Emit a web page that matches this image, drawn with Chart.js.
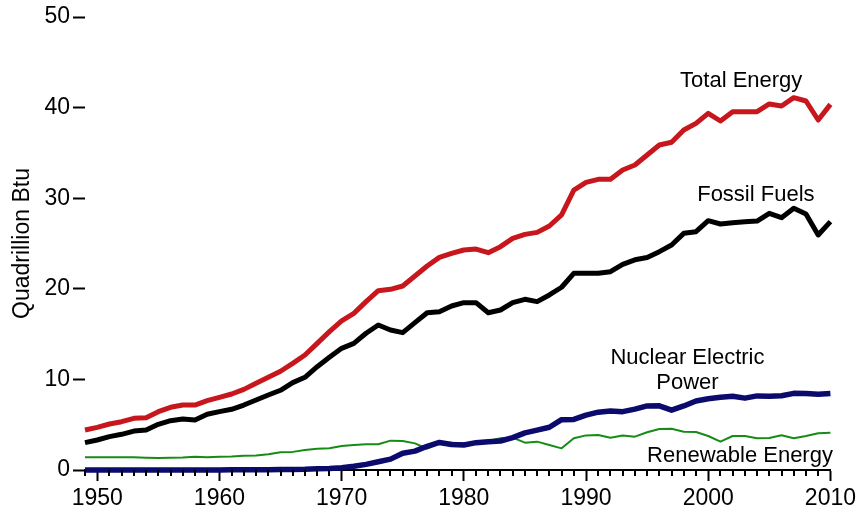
<!DOCTYPE html>
<html>
<head>
<meta charset="utf-8">
<script src="https://cdn.jsdelivr.net/npm/chart.js@4.4.1/dist/chart.umd.min.js"></script>
<style>
  html, body { margin: 0; padding: 0; background: #fff; }
  #wrap { width: 860px; height: 513px; }
</style>
</head>
<body>
<div id="wrap"><canvas id="chart" width="860" height="513"></canvas></div>
<script>
// データ（1949〜2010年、単位: Quadrillion Btu）
const years = [];
for (let y = 1949; y <= 2010; y++) years.push(y);

const totalEnergy = [
  4.41, 4.71, 5.08, 5.33, 5.70, 5.77, 6.44, 6.92, 7.17, 7.17, 7.65,
  8.02, 8.39, 8.90, 9.57, 10.23, 10.90, 11.77, 12.69, 13.98, 15.27,
  16.45, 17.29, 18.58, 19.79, 19.94, 20.31, 21.41, 22.52, 23.47, 23.91,
  24.28, 24.39, 23.99, 24.65, 25.57, 26.01, 26.23, 26.93, 28.15, 30.90,
  31.75, 32.08, 32.08, 33.11, 33.66, 34.77, 35.87, 36.17, 37.53, 38.26,
  39.37, 38.52, 39.55, 39.55, 39.55, 40.40, 40.18, 41.10, 40.73, 38.63,
  40.36
];

const fossilFuels = [
  3.02, 3.31, 3.68, 3.94, 4.30, 4.41, 5.04, 5.44, 5.63, 5.52, 6.15,
  6.44, 6.70, 7.17, 7.73, 8.28, 8.80, 9.64, 10.23, 11.40, 12.44,
  13.43, 13.98, 15.09, 16.00, 15.45, 15.16, 16.26, 17.36, 17.47, 18.10,
  18.47, 18.47, 17.36, 17.66, 18.47, 18.84, 18.58, 19.32, 20.17, 21.71,
  21.71, 21.71, 21.89, 22.70, 23.20, 23.45, 24.10, 24.83, 26.12, 26.30,
  27.52, 27.15, 27.30, 27.41, 27.48, 28.33, 27.85, 28.88, 28.26, 25.94,
  27.41
];

const nuclear = [
  0, 0, 0, 0, 0, 0, 0, 0, 0, 0.002, 0.002,
  0.006, 0.02, 0.026, 0.038, 0.04, 0.043, 0.064, 0.088, 0.142, 0.154,
  0.24, 0.41, 0.62, 0.91, 1.20, 1.85, 2.08, 2.62, 3.04, 2.82,
  2.76, 3.02, 3.13, 3.20, 3.58, 4.10, 4.40, 4.72, 5.56, 5.58,
  6.05, 6.38, 6.50, 6.44, 6.72, 7.07, 7.08, 6.60, 7.07, 7.62,
  7.87, 8.02, 8.13, 7.93, 8.18, 8.15, 8.20, 8.46, 8.45, 8.36,
  8.45
];

const renewable = [
  1.40, 1.40, 1.40, 1.42, 1.40, 1.36, 1.33, 1.35, 1.38, 1.45, 1.42,
  1.46, 1.48, 1.58, 1.60, 1.75, 1.95, 2.00, 2.20, 2.35, 2.40,
  2.65, 2.75, 2.83, 2.85, 3.24, 3.20, 2.94, 2.35, 2.95, 3.00,
  2.95, 2.94, 3.20, 3.50, 3.57, 3.02, 3.13, 2.76, 2.39, 3.50,
  3.82, 3.86, 3.57, 3.80, 3.68, 4.16, 4.53, 4.56, 4.23, 4.19,
  3.75, 3.13, 3.75, 3.75, 3.50, 3.53, 3.83, 3.50, 3.75, 4.05,
  4.12
];

// 系列名とラベル位置（データ座標）
const labelNotes = [
  { text: 'Total Energy', x: 2002.7, y: 42.9 },
  { text: 'Fossil Fuels', x: 2003.9, y: 30.35 },
  { text: 'Nuclear Electric', x: 1998.3, y: 12.35 },
  { text: 'Power', x: 1998.3, y: 9.6 },
  { text: 'Renewable Energy', x: 2002.6, y: 1.55 }
];

const FONT = "'Liberation Sans', Arial, sans-serif";

function toPoints(values) {
  return years.map((yr, i) => ({ x: yr, y: values[i] }));
}

// 小目盛りと系列ラベルを描くプラグイン
const decorPlugin = {
  id: 'decor',
  afterDraw(chart) {
    const { ctx, scales } = chart;
    const xs = scales.x;
    const ys = scales.y;
    const axisY = ys.getPixelForValue(0);

    ctx.save();
    ctx.strokeStyle = '#000';
    ctx.lineWidth = 2;
    years.forEach(yr => {
      if (yr % 10 === 0) return;
      const px = Math.round(xs.getPixelForValue(yr));
      ctx.beginPath();
      ctx.moveTo(px, axisY);
      ctx.lineTo(px, axisY + 6);
      ctx.stroke();
    });

    ctx.fillStyle = '#000';
    ctx.font = `22px ${FONT}`;
    ctx.textAlign = 'center';
    ctx.textBaseline = 'middle';
    labelNotes.forEach(n => {
      ctx.fillText(n.text, xs.getPixelForValue(n.x), ys.getPixelForValue(n.y));
    });
    ctx.restore();
  }
};

const lineStyle = {
  pointRadius: 0,
  tension: 0,
  borderJoinStyle: 'round',
  borderCapStyle: 'butt',
  clip: false
};

new Chart(document.getElementById('chart'), {
  type: 'line',
  data: {
    datasets: [
      { label: 'Total Energy', data: toPoints(totalEnergy), borderColor: '#c8161d', borderWidth: 5, ...lineStyle },
      { label: 'Fossil Fuels', data: toPoints(fossilFuels), borderColor: '#000000', borderWidth: 5, ...lineStyle },
      { label: 'Nuclear Electric Power', data: toPoints(nuclear), borderColor: '#0b0b6e', borderWidth: 5.5, ...lineStyle },
      { label: 'Renewable Energy', data: toPoints(renewable), borderColor: '#168c16', borderWidth: 2, ...lineStyle }
    ]
  },
  options: {
    responsive: false,
    animation: false,
    layout: { padding: { top: 17, right: 29, bottom: 0, left: 0 } },
    plugins: {
      legend: { display: false },
      tooltip: { enabled: false }
    },
    scales: {
      x: {
        type: 'linear',
        min: 1949,
        max: 2010,
        afterFit: s => { s.height = 43; },
        border: { display: true, color: '#000', width: 2 },
        grid: {
          drawOnChartArea: false,
          drawTicks: true,
          tickLength: 11,
          tickWidth: 2,
          tickColor: c => (c.tick && c.tick.value % 10 === 0) ? '#000' : 'rgba(0,0,0,0)'
        },
        ticks: {
          stepSize: 1,
          autoSkip: false,
          maxTicksLimit: 100,
          maxRotation: 0,
          padding: 4,
          color: '#000',
          font: { family: FONT, size: 23 },
          callback: v => (v % 10 === 0 ? String(v) : '')
        }
      },
      y: {
        min: 0,
        max: 50,
        afterFit: s => { s.width = 85; },
        border: { display: false },
        grid: {
          drawOnChartArea: false,
          drawTicks: true,
          tickLength: 12,
          tickWidth: 2,
          tickColor: '#000'
        },
        ticks: {
          stepSize: 10,
          padding: 3,
          color: '#000',
          font: { family: FONT, size: 23 }
        },
        title: {
          display: true,
          text: 'Quadrillion Btu',
          color: '#000',
          font: { family: FONT, size: 23 },
          padding: { top: 9, bottom: 0 }
        }
      }
    }
  },
  plugins: [decorPlugin]
});
</script>
</body>
</html>
